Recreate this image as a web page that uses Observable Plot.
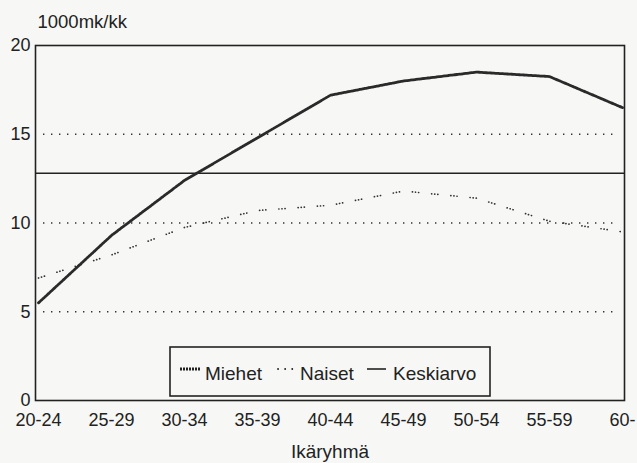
<!DOCTYPE html>
<html><head><meta charset="utf-8">
<script src="https://cdn.jsdelivr.net/npm/d3@7"></script>
<script src="https://cdn.jsdelivr.net/npm/@observablehq/plot@0.6"></script>
<style>
body{margin:0;background:#f7f7f5;}
#chart{position:relative;width:637px;height:463px;}
</style></head>
<body><div id="chart"></div>
<script>
const ageGroups = ["20-24","25-29","30-34","35-39","40-44","45-49","50-54","55-59","60-"];
const miehet = [5.5, 9.3, 12.4, 14.8, 17.2, 18.0, 18.5, 18.25, 16.5];
const naiset = [6.9, 8.2, 9.75, 10.7, 11.0, 11.8, 11.4, 10.1, 9.5];
const keskiarvo = 12.8;
const yTicks = [0, 5, 10, 15, 20];
const gridValues = [5, 10, 15];
const seriesNames = ["Miehet", "Naiset", "Keskiarvo"];
const yTitle = "1000mk/kk";
const xTitle = "Ikäryhmä";

const font = "'Liberation Sans', Arial, Helvetica, sans-serif";
const ink = "#222";

const chart = Plot.plot({
  width: 637, height: 463,
  marginTop: 45, marginBottom: 63, marginLeft: 35, marginRight: 13,
  style: {fontFamily: font, fontSize: "18px", background: "transparent", color: ink, overflow: "visible"},
  x: {type: "point", domain: ageGroups, padding: 0},
  y: {domain: [0, 20]},
  marks: [
    Plot.ruleY(gridValues, {stroke: "#333", strokeWidth: 1.4, strokeDasharray: "1.4,6.6", insetLeft: 8, insetRight: 8}),
    Plot.ruleY([keskiarvo], {stroke: ink, strokeWidth: 1.6}),
    Plot.line(ageGroups, {x: d => d, y: (d, i) => naiset[i], stroke: "#333", strokeWidth: 1.7, strokeLinecap: "round", strokeDasharray: "0.1,3,0.1,3,0.1,13"}),
    Plot.line(ageGroups, {x: d => d, y: (d, i) => miehet[i], stroke: "#2a2a2a", strokeWidth: 2.8, strokeDasharray: "2,1"}),
    Plot.frame({stroke: ink, strokeWidth: 1.6}),
    Plot.axisX({tickSize: 0, tickPadding: 13, label: null, fill: ink}),
    Plot.axisY({ticks: yTicks, tickSize: 0, tickPadding: 5, label: null, fill: ink}),
    Plot.text([yTitle], {frameAnchor: "top-left", dx: 2, dy: -23, textAnchor: "start", lineAnchor: "middle", fill: ink, fontSize: 18.5}),
    Plot.text([xTitle], {frameAnchor: "bottom", dy: 51, lineAnchor: "middle", fill: ink, fontSize: 19})
  ]
});

// legend box inside the plot
const svg = d3.select(chart);
const lg = svg.append("g").attr("font-family", font).attr("font-size", 19).attr("fill", ink)
  .attr("text-anchor", "start");
lg.append("rect").attr("x", 170).attr("y", 347).attr("width", 320).attr("height", 49)
  .attr("fill", "#f7f7f5").attr("stroke", ink).attr("stroke-width", 1.6);
const swatches = [
  {x1: 180, x2: 201, dash: "2,1", w: 2.8, tx: 205, cap: "butt"},
  {x1: 278, x2: 294, dash: "0.1,7", w: 1.8, tx: 300, cap: "round"},
  {x1: 367, x2: 386, dash: null, w: 1.6, tx: 393, cap: "butt"}
];
swatches.forEach((s, i) => {
  const ln = lg.append("line").attr("x1", s.x1).attr("x2", s.x2).attr("y1", 369).attr("y2", 369)
    .attr("stroke", ink).attr("stroke-width", s.w).attr("stroke-linecap", s.cap);
  if (s.dash) ln.attr("stroke-dasharray", s.dash);
  lg.append("text").attr("x", s.tx).attr("y", 373).attr("dy", "0.35em")
    .attr("text-anchor", "start").text(seriesNames[i]);
});

document.getElementById("chart").appendChild(chart);
</script>
</body></html>
